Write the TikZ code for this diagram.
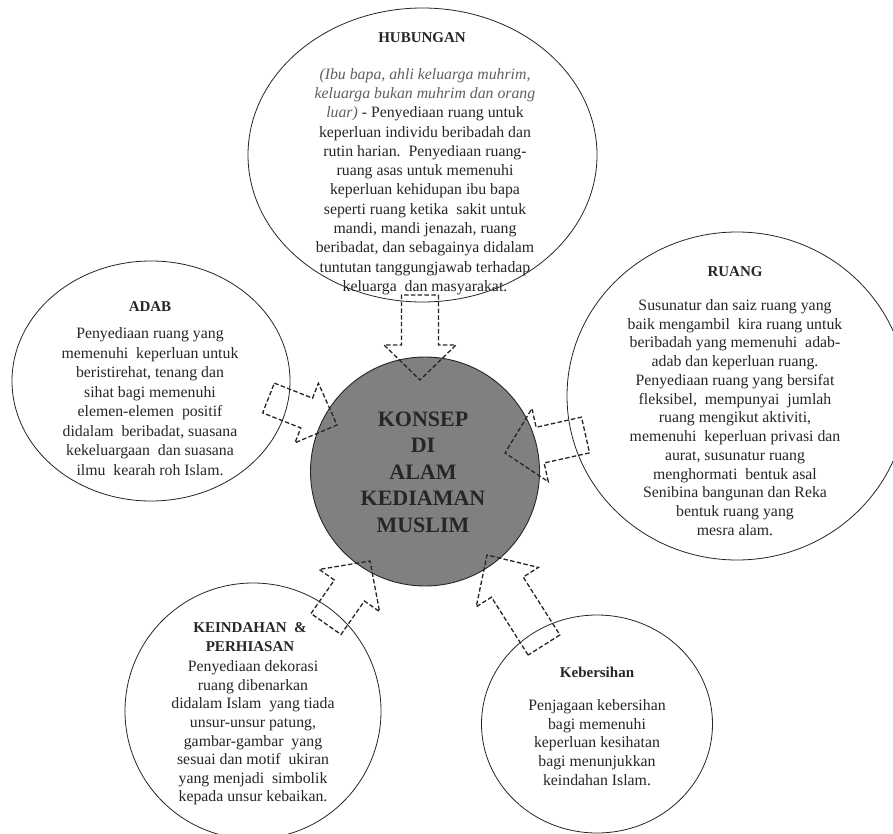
\documentclass[tikz,border=0pt]{standalone}
\usepackage{fontspec}
\setmainfont{Liberation Serif}
\usetikzlibrary{calc,shapes.geometric}
\definecolor{ink}{RGB}{38,38,38}
\definecolor{softink}{RGB}{95,95,95}
\definecolor{core}{RGB}{128,128,128}
\tikzset{
  bubble/.style={draw=ink, line width=0.8pt, ellipse, inner sep=0pt},
  corecircle/.style={draw=ink, line width=0.9pt, fill=core, circle, inner sep=0pt},
  bodytext/.style={align=center, text=ink, inner sep=0pt, font=\fontsize{15.8}{18.8}\selectfont},
  headtext/.style={align=center, text=ink, inner sep=0pt, font=\fontsize{15}{19}\selectfont\bfseries},
  coretext/.style={align=center, text=ink, inner sep=0pt, font=\fontsize{22}{26.5}\selectfont\bfseries},
  blockarrow/.style={draw=ink, line width=1.3pt, dash pattern=on 4.5pt off 2.3pt, line join=miter},
}
% #1 tail, #2 tip, #3 head length, #4 shaft half width, #5 head half width
\newcommand\blockarr[5]{%
  \coordinate (#1j) at ($(#2)!#3!(#1)$);
  \draw[blockarrow] ($(#1)!#4!90:(#2)$) -- ($(#1j)!#4!90:(#2)$) -- ($(#1j)!#5!90:(#2)$)
    -- (#2) -- ($(#1j)!#5!-90:(#2)$) -- ($(#1j)!#4!-90:(#2)$) -- ($(#1)!#4!-90:(#2)$) -- cycle;
}
\begin{document}
\begin{tikzpicture}[x=1pt,y=-1pt]
\useasboundingbox (0,0) rectangle (893,834);
\fill[white] (0,0) rectangle (893,834);

% bubbles
\node[bubble, minimum width=349pt, minimum height=294pt] (hub) at (422.5,155) {};
\node[bubble, minimum width=278pt, minimum height=240pt] (adab) at (151,381) {};
\node[bubble, minimum width=340pt, minimum height=328pt] (ruang) at (737,396) {};
\node[bubble, minimum width=256pt, minimum height=256pt] (indah) at (253,711) {};
\node[bubble, minimum width=231pt, minimum height=218pt] (bersih) at (597,724) {};
\node[corecircle, minimum size=229pt] (core) at (425,471.5) {};

% core text
\node[coretext] (coretxt) at (423,472) {KONSEP\\DI\\ALAM\\KEDIAMAN\\MUSLIM};

% HUBUNGAN
\node[headtext] (hubt) at (422,38) {HUBUNGAN};
\node[bodytext, font=\fontsize{15.8}{19.3}\selectfont] (hubb) at (425,181.5) {%
{\itshape\color{softink}(Ibu bapa, ahli keluarga muhrim,}\\
{\itshape\color{softink}keluarga bukan muhrim dan orang}\\
{\itshape\color{softink}luar)} - Penyediaan ruang untuk\\
keperluan individu beribadah dan\\
rutin harian.\ \ Penyediaan ruang-\\
ruang asas untuk memenuhi\\
keperluan kehidupan ibu bapa\\
seperti ruang ketika\ \ sakit untuk\\
mandi,\ mandi jenazah, ruang\\
beribadat, dan sebagainya didalam\\
tuntutan tanggungjawab terhadap\\
keluarga\ \ dan masyarakat.};

% ADAB
\node[headtext] (adabt) at (150,307) {ADAB};
\node[bodytext, font=\fontsize{15.8}{19.5}\selectfont] (adabb) at (150,401.5) {%
Penyediaan ruang yang\\
memenuhi\ \ keperluan untuk\\
beristirehat, tenang dan\\
sihat bagi memenuhi\\
elemen-elemen\ \ positif\\
didalam\ \ beribadat, suasana\\
kekeluargaan\ \ dan suasana\\
ilmu\ \ kearah roh Islam.};

% RUANG
\node[headtext] (ruangt) at (735,272) {RUANG};
\node[bodytext, font=\fontsize{15.8}{18.75}\selectfont] (ruangb) at (735,417.5) {%
Susunatur dan saiz ruang yang\\
baik mengambil\ \ kira ruang untuk\\
beribadah yang memenuhi\ \ adab-\\
adab dan keperluan ruang.\\
Penyediaan ruang yang bersifat\\
fleksibel,\ \ mempunyai\ \ jumlah\\
ruang mengikut aktiviti,\\
memenuhi\ \ keperluan privasi dan\\
aurat, susunatur ruang\\
menghormati\ \ bentuk asal\\
Senibina bangunan dan Reka\\
bentuk ruang yang\\
mesra alam.};

% KEINDAHAN
\node[headtext] (indaht) at (250,637.5) {KEINDAHAN\ \ \&\\PERHIASAN};
\node[bodytext, font=\fontsize{15.8}{18.6}\selectfont] (indahb) at (253,733) {%
Penyediaan dekorasi\\
ruang dibenarkan\\
didalam Islam\ \ yang tiada\\
unsur-unsur patung,\\
gambar-gambar\ \ yang\\
sesuai dan motif\ \ ukiran\\
yang menjadi\ \ simbolik\\
kepada unsur kebaikan.};

% Kebersihan
\node[headtext] (bersiht) at (597,672) {Kebersihan};
\node[bodytext, font=\fontsize{15.8}{18.75}\selectfont] (bersihb) at (597,742.5) {%
Penjagaan kebersihan\\
bagi memenuhi\\
keperluan kesihatan\\
bagi menunjukkan\\
keindahan Islam.};

% arrow anchors
\coordinate (ta) at (420,295);   \coordinate (tb) at (420,380);
\coordinate (la) at (268.5,398); \coordinate (lb) at (337,425);
\coordinate (ra) at (585.5,435); \coordinate (rb) at (505,453);
\coordinate (bla) at (326,624);  \coordinate (blb) at (370,561);
\coordinate (bra) at (544,645);  \coordinate (brb) at (487,555);

\blockarr{ta}{tb}{35pt}{18.5pt}{36pt}
\blockarr{la}{lb}{32.6pt}{16pt}{32pt}
\blockarr{ra}{rb}{36pt}{18.3pt}{37.5pt}
\blockarr{bla}{blb}{36pt}{18.3pt}{36.8pt}
\blockarr{bra}{brb}{38pt}{18.8pt}{36.8pt}
\end{tikzpicture}
\end{document}
